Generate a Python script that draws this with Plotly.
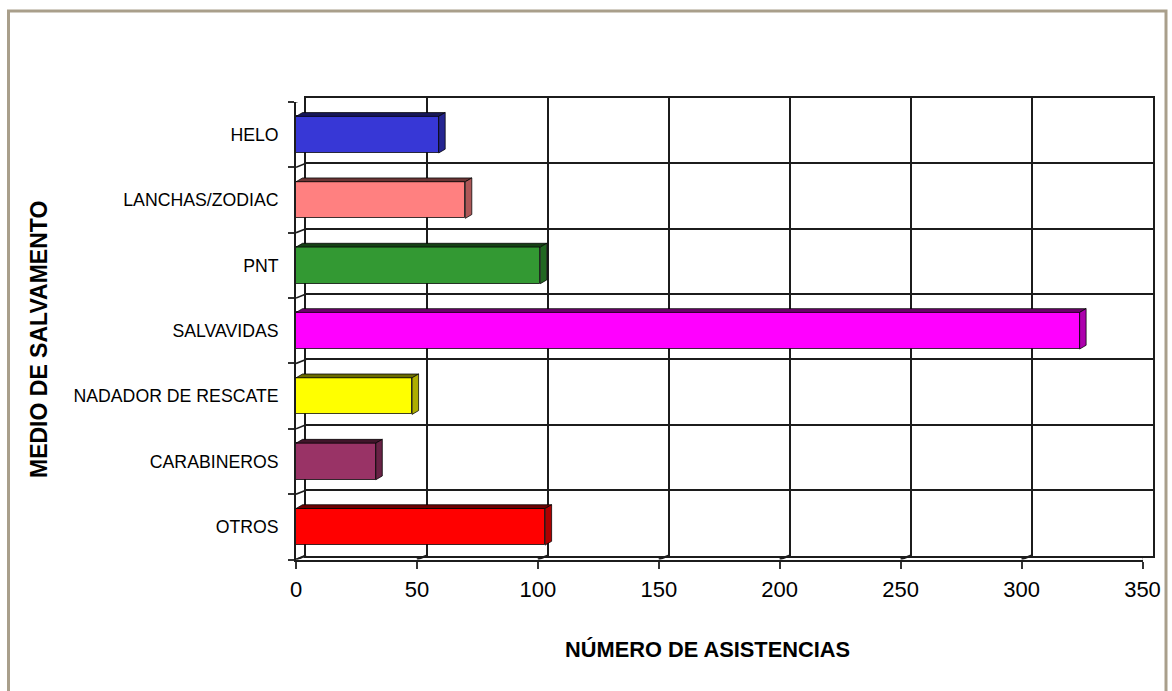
import plotly.graph_objects as go

# ---- data ---------------------------------------------------------------
categories = ["HELO", "LANCHAS/ZODIAC", "PNT", "SALVAVIDAS",
              "NADADOR DE RESCATE", "CARABINEROS", "OTROS"]
asistencias = [59, 70, 101, 324, 48, 33, 103]
bar_colors = ["#3737d6", "#ff8080", "#339933", "#ff00ff",
              "#ffff00", "#993366", "#ff0000"]
x_ticks = [0, 50, 100, 150, 200, 250, 300, 350]

# ---- page geometry (pixels) ---------------------------------------------
W, H = 1172, 691
FRONT_L, FRONT_R = 296.0, 1142.5      # front plane of the plot box
FRONT_T, FRONT_B = 102.0, 559.5
DEPTH_X, DEPTH_Y = 10, 4               # back wall offset behind the front plane
BAR_DX, BAR_DY = 6.5, 3.8              # extrusion of each bar
BAR_WIDTH = 0.56
X_MAX = 350
N = len(categories)

FONT = "Liberation Sans, Arial, sans-serif"
LINE = "#1c1c1c"


def shade(hex_color, k):
    r, g, b = (int(hex_color[i:i + 2], 16) for i in (1, 3, 5))
    return "rgb({},{},{})".format(int(r * k), int(g * k), int(b * k))


def xdom(left, right):
    return [left / W, right / W]


def ydom(top, bottom):
    return [1 - bottom / H, 1 - top / H]


y_idx = list(range(N))
y_range = [N - 0.5, -0.5]          # first category on top
boundaries = [i - 0.5 for i in range(N + 1)]

fig = go.Figure()

# anchor trace so the back-wall axes (x/y) get drawn
fig.add_trace(go.Scatter(x=[0], y=[0], mode="markers",
                         marker=dict(opacity=0), hoverinfo="skip",
                         showlegend=False, xaxis="x", yaxis="y"))

# front faces of the bars (front axes x2/y2)
fig.add_trace(go.Bar(
    x=asistencias, y=y_idx, orientation="h", width=BAR_WIDTH,
    marker=dict(color=bar_colors, line=dict(color="rgba(0,0,0,0.75)", width=1)),
    xaxis="x2", yaxis="y2", hoverinfo="x+text", text=categories,
    textposition="none", showlegend=False,
))

shapes = []

# top and side faces of each bar
px_x = (FRONT_R - FRONT_L) / X_MAX
px_y = (FRONT_B - FRONT_T) / N
ddx = BAR_DX / px_x
ddy = BAR_DY / px_y
for i, (v, c) in enumerate(zip(asistencias, bar_colors)):
    top = i - BAR_WIDTH / 2
    bot = i + BAR_WIDTH / 2
    top_face = (f"M0,{top} L{v},{top} L{v + ddx},{top - ddy} "
                f"L{ddx},{top - ddy} Z")
    side_face = (f"M{v},{top} L{v + ddx},{top - ddy} "
                 f"L{v + ddx},{bot - ddy} L{v},{bot} Z")
    shapes.append(dict(type="path", xref="x2", yref="y2", path=top_face,
                       fillcolor=shade(c, 0.42),
                       line=dict(color="rgba(0,0,0,0.75)", width=1),
                       layer="above"))
    shapes.append(dict(type="path", xref="x2", yref="y2", path=side_face,
                       fillcolor=shade(c, 0.68),
                       line=dict(color="rgba(0,0,0,0.75)", width=1),
                       layer="above"))

# left side wall: gridlines running from the front plane to the back wall
for b in boundaries:
    shapes.append(dict(type="path", xref="x2", yref="y2",
                       xsizemode="pixel", ysizemode="pixel",
                       xanchor=0, yanchor=b,
                       path=f"M0,0 L{DEPTH_X},{DEPTH_Y}",
                       line=dict(color=LINE, width=1.6), layer="below"))
# floor: gridlines from the front edge to the back wall
for t in x_ticks:
    shapes.append(dict(type="path", xref="x2", yref="y2",
                       xsizemode="pixel", ysizemode="pixel",
                       xanchor=t, yanchor=N - 0.5,
                       path=f"M0,0 L{DEPTH_X},{DEPTH_Y}",
                       line=dict(color=LINE, width=2), layer="below"))

# outer chart frame (its bottom edge sits just below the page)
shapes.append(dict(type="rect", xref="paper", yref="paper",
                   x0=8.5 / W, x1=1166 / W, y0=-3 / H, y1=1 - 11 / H,
                   line=dict(color="#a99f8b", width=3),
                   fillcolor="rgba(0,0,0,0)", layer="below"))

fig.update_layout(
    width=W, height=H, autosize=False,
    margin=dict(l=0, r=0, t=0, b=0, autoexpand=False),
    paper_bgcolor="white", plot_bgcolor="rgba(0,0,0,0)",
    font=dict(family=FONT, color="#000000"),
    shapes=shapes,
    bargap=0,
    # back wall with its gridlines
    xaxis=dict(domain=xdom(FRONT_L + DEPTH_X, FRONT_R + DEPTH_X),
               range=[0, X_MAX], tickvals=x_ticks, showticklabels=False,
               ticks="", showgrid=True, gridcolor=LINE, gridwidth=1.8,
               zeroline=False, showline=True, mirror=True, automargin=False,
               linecolor=LINE, linewidth=1.8, anchor="y", fixedrange=True),
    yaxis=dict(domain=ydom(FRONT_T - DEPTH_Y, FRONT_B - DEPTH_Y),
               range=y_range, tickvals=boundaries[1:-1], showticklabels=False,
               ticks="", showgrid=True, gridcolor=LINE, gridwidth=1.8,
               zeroline=False, showline=True, mirror=True, automargin=False,
               linecolor=LINE, linewidth=1.8, anchor="x", fixedrange=True),
    # front plane: ticks, tick labels and the bars
    xaxis2=dict(domain=xdom(FRONT_L, FRONT_R), range=[0, X_MAX],
                tickvals=x_ticks, ticks="outside", ticklen=7, tickwidth=1.5,
                tickcolor="#333333", showgrid=False, zeroline=False,
                showline=True, linecolor=LINE, linewidth=2, automargin=False,
                tickfont=dict(family=FONT, size=22, color="#000000"),
                ticklabelstandoff=2,
                anchor="y2", fixedrange=True),
    yaxis2=dict(domain=ydom(FRONT_T, FRONT_B), range=y_range,
                tickvals=y_idx, ticktext=categories, ticks="",
                minor=dict(tickvals=boundaries, ticks="outside", ticklen=6,
                           tickwidth=1.5, tickcolor="#333333", showgrid=False),
                showgrid=False, zeroline=False, showline=True,
                linecolor=LINE, linewidth=1.8, automargin=False,
                tickfont=dict(family=FONT, size=17.7, color="#000000"),
                ticklabelstandoff=12,
                anchor="x2", fixedrange=True),
    annotations=[
        dict(text="<b>NÚMERO DE ASISTENCIAS</b>", xref="paper", yref="paper",
             x=707 / W, y=1 - 649 / H, xanchor="center", yanchor="middle",
             showarrow=False,
             font=dict(family=FONT, size=21.8, color="#000000")),
        dict(text="<b>MEDIO DE SALVAMENTO</b>", xref="paper", yref="paper",
             x=39 / W, y=1 - 340 / H, xanchor="center", yanchor="middle",
             showarrow=False, textangle=-90,
             font=dict(family=FONT, size=23, color="#000000")),
    ],
)

page_fix = (
    "document.documentElement.style.margin='0';"
    "document.documentElement.style.overflow='hidden';"
    "document.body.style.margin='0';"
    "document.body.style.overflow='hidden';"
)
fig.write_html("out.html", post_script=page_fix)
